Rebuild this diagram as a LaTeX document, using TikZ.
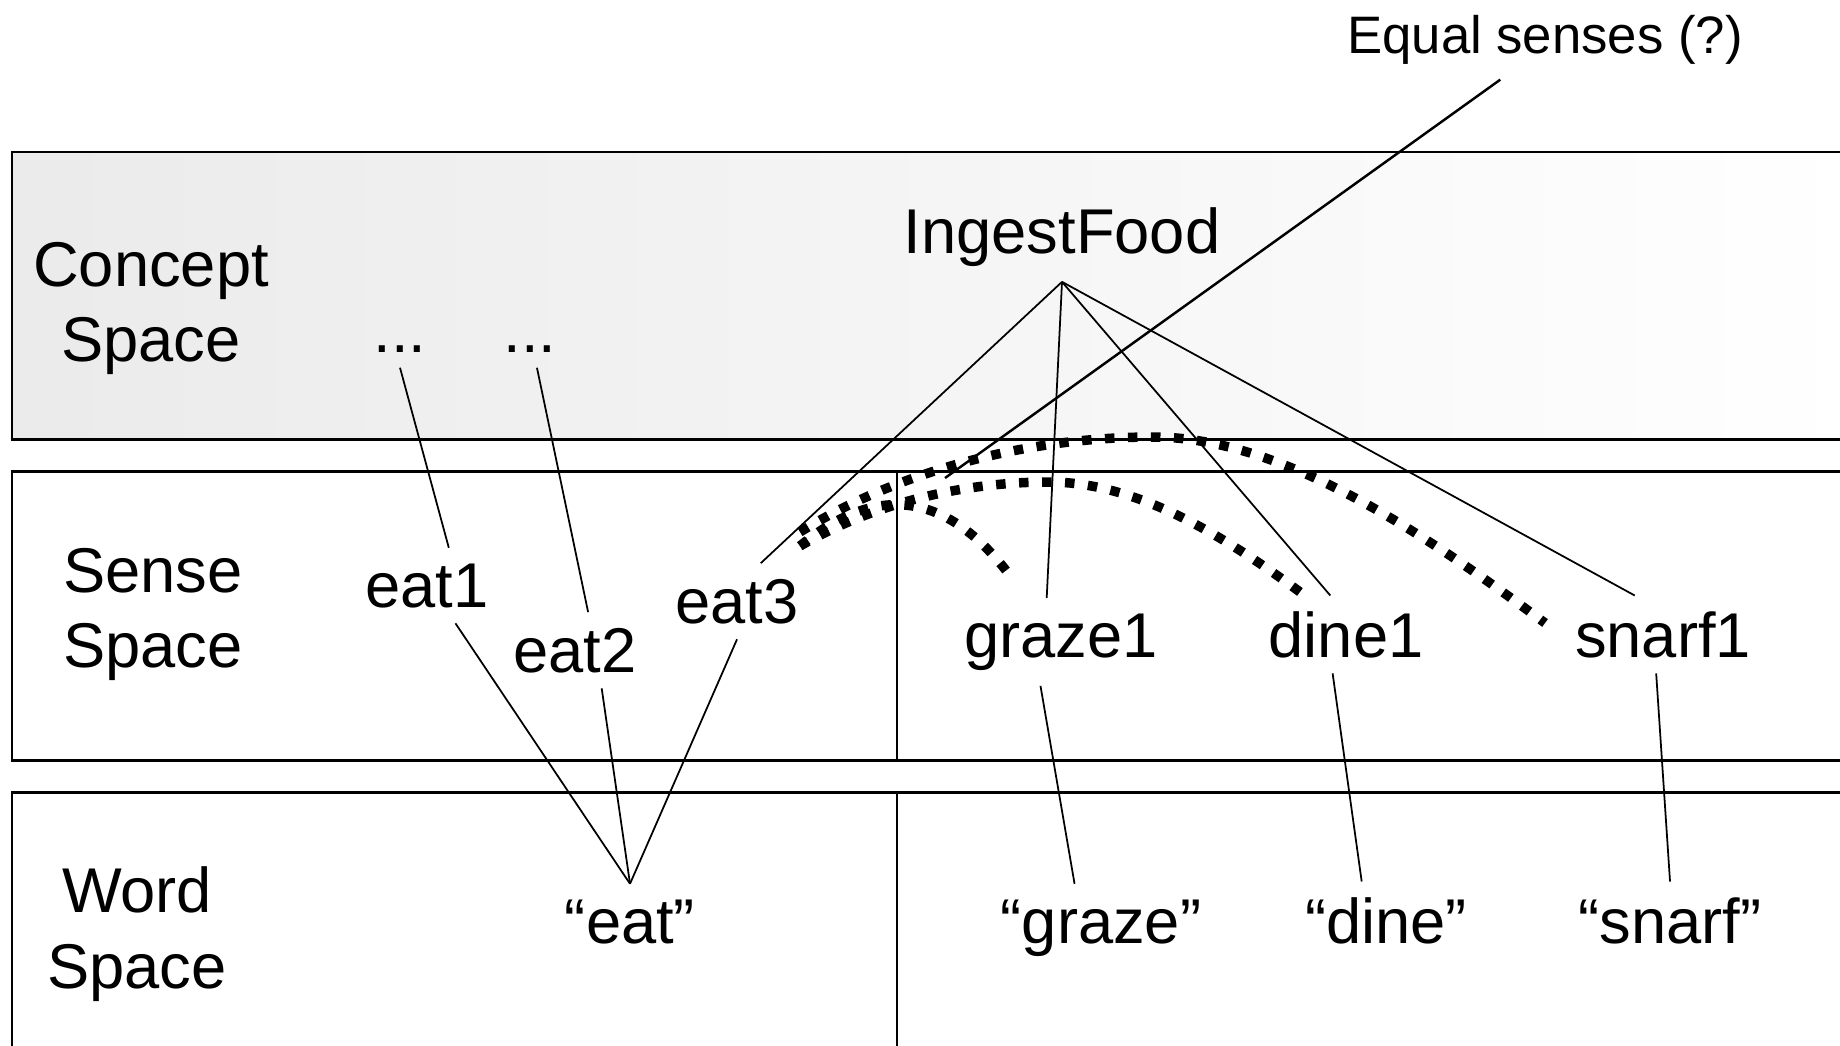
\documentclass[tikz,border=0pt]{standalone}
\usepackage{fontspec}
\setmainfont{Liberation Sans}

\begin{document}
\begin{tikzpicture}[
    word/.style={font=\fontsize{18}{21.6}\selectfont, inner sep=1.5mm, anchor=base},
    spacelbl/.style={font=\fontsize{18}{21.6}\selectfont, align=center, inner sep=0pt},
    band/.style={line width=0.85pt},
    link/.style={line width=0.5pt},
    samesense/.style={line width=0.95mm, dash pattern=on 0.95mm off 1.35mm}]

    \clip (0,0) rectangle (18.4,-10.45);

    % Concept band
    \shade[left color=gray!16, middle color=gray!28, right color=white] (0.12,-1.52) rectangle (18.6,-4.39);
    \draw[band] (18.6,-1.52) -- (0.12,-1.52) -- (0.12,-4.39) -- (18.6,-4.39);
    \node[spacelbl] (concept) at (1.51,-3.085) {Concept\\Space};
    \node[word] (food) at (10.62,-2.53) {IngestFood};
    \node[word] (dots1) at (4.00,-3.52) {...};
    \node[word] (dots2) at (5.30,-3.52) {...};

    % Sense band
    \draw[band] (18.6,-4.71) -- (0.12,-4.71) -- (0.12,-7.60) -- (18.6,-7.60);
    \draw[link] (8.97,-4.71) -- (8.97,-7.60);
    \node[spacelbl] (sense) at (1.53,-6.145) {Sense\\Space};
    \node[word] (eat1) at (4.27,-6.07) {eat1};
    \node[word] (eat2) at (5.75,-6.72) {eat2};
    \node[word] (eat3) at (7.37,-6.23) {eat3};
    \node[word] (graze1) at (10.61,-6.57) {graze1};
    \node[word] (dine1) at (13.46,-6.57) {dine1};
    \node[word] (snarf1) at (16.63,-6.57) {snarf1};

    % Word band
    \draw[band] (18.6,-7.92) -- (0.12,-7.92) -- (0.12,-10.6);
    \draw[link] (8.97,-7.92) -- (8.97,-10.6);
    \node[spacelbl] (wordlbl) at (1.37,-9.34) {Word\\Space};
    \node[word] (eatw) at (6.30,-9.43) {“eat”};
    \node[word] (grazew) at (11.01,-9.43) {“graze”};
    \node[word] (dinew) at (13.86,-9.43) {“dine”};
    \node[word] (snarfw) at (16.70,-9.43) {“snarf”};

    % concept -> sense
    \draw[link] (dots1.south) -- (eat1.60);
    \draw[link] (dots2.-70) -- (eat2.71);
    \draw[link] (eat3.58) -- (food.south);
    \draw[link] (graze1.108) -- (food.south);
    \draw[link] (dine1.112) -- (food.south);
    \draw[link] (snarf1.126) -- (food.south);

    % sense -> word
    \draw[link] (eat1.-53) -- (eatw.north);
    \draw[link] (eat2.-55) -- (eatw.north);
    \draw[link] (eat3.south) -- (eatw.north);
    \draw[link] (graze1.-115) -- (grazew.121);
    \draw[link] (dine1.-109) -- (dinew.122);
    \draw[link] (snarf1.-100) -- (snarfw.north);

    % equal senses
    \coordinate (c0) at (8.00,-5.46);
    \coordinate (c1) at (8.00,-5.32);
    \coordinate (cg) at (10.11,-5.77);
    \coordinate (cd) at (13.04,-5.95);
    \coordinate (cs) at (15.45,-6.23);
    \draw[samesense] (c0) .. controls (8.80,-4.80) and (9.50,-4.95) .. (cg);
    \draw[samesense] (c0) .. controls (8.80,-5.00) and (9.70,-4.82) .. (10.49,-4.82)
        .. controls (11.40,-4.82) and (12.30,-5.40) .. (cd);
    \draw[samesense] (c1) .. controls (9.00,-4.70) and (10.30,-4.37) .. (11.53,-4.37)
        .. controls (12.80,-4.37) and (14.20,-5.30) .. (cs);

    \node[word, font=\fontsize{15}{18}\selectfont] (equal) at (15.45,-0.53) {Equal senses (?)};
    \coordinate (meet) at (9.45,-4.78);
    \draw[line width=0.7pt] (equal.-138) -- (meet);
\end{tikzpicture}
\end{document}
